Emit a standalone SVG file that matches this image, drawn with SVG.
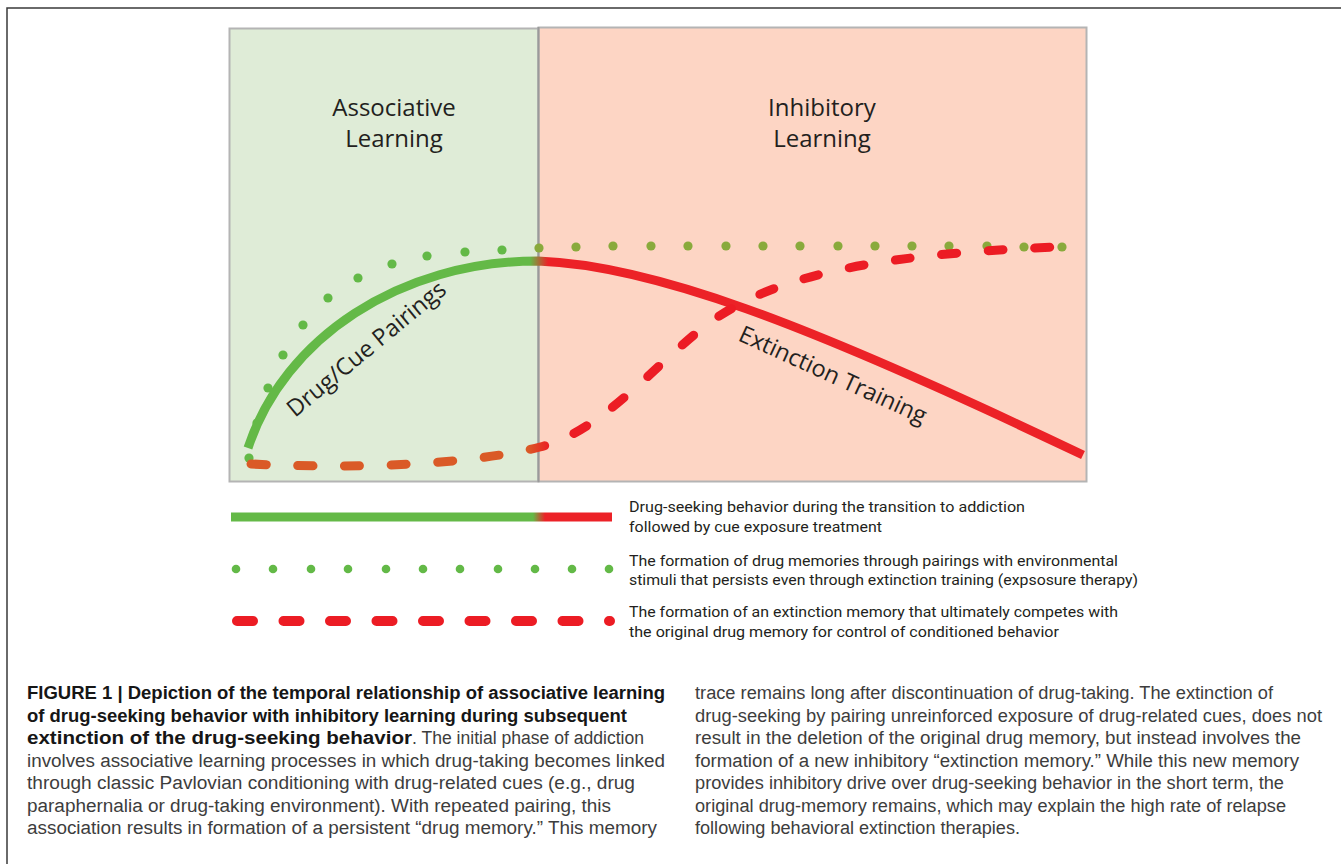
<svg xmlns="http://www.w3.org/2000/svg" width="1341" height="864" viewBox="0 0 1341 864">
<style>
.title{font-family:"Open Sans","Noto Sans",sans-serif;font-size:24px;fill:#231f20;text-anchor:middle}
.curvelbl{font-family:"Open Sans","Noto Sans",sans-serif;font-size:23.5px;fill:#231f20}
.leg{font-family:Roboto,"Liberation Sans",sans-serif;font-size:15px;fill:#231f20}
.cap{font-family:"Liberation Sans",Arial,sans-serif;font-size:18px;fill:#3d3d3d}
.capb{font-family:"Liberation Sans",Arial,sans-serif;font-size:18px;font-weight:bold;fill:#161616}
.dg{fill:#63b947}
.do{fill:#89aa3c}
</style>
<defs>
<linearGradient id="solidG" gradientUnits="userSpaceOnUse" x1="530" y1="0" x2="548" y2="0">
<stop offset="0" stop-color="#64b947"/><stop offset="1" stop-color="#ec2227"/>
</linearGradient>
<linearGradient id="dashG" gradientUnits="userSpaceOnUse" x1="528" y1="0" x2="550" y2="0">
<stop offset="0" stop-color="#da5a27"/><stop offset="1" stop-color="#ec1c24"/>
</linearGradient>
<linearGradient id="legG" gradientUnits="userSpaceOnUse" x1="533" y1="0" x2="545" y2="0">
<stop offset="0" stop-color="#64b947"/><stop offset="1" stop-color="#ec2227"/>
</linearGradient>
</defs>
<rect width="1341" height="864" fill="#ffffff"/>
<g id="frame" fill="none" stroke="#3a3a3a" stroke-width="1.5">
<path d="M7,864 V8 H1341"/>
</g>
<g id="panel-associative">
<rect x="229.5" y="28.5" width="309" height="453" fill="#dfecd7" stroke="#b4b4b4" stroke-width="2"/>
<text class="title" x="394" y="116">Associative</text>
<text class="title" x="394" y="147">Learning</text>
</g>
<g id="panel-inhibitory">
<rect x="538.5" y="27.5" width="548" height="454" fill="#fdd5c4" stroke="#b4b4b4" stroke-width="2"/>
<line x1="538.5" y1="27" x2="538.5" y2="482" stroke="#9a9a9a" stroke-width="2"/>
<text class="title" x="822" y="116">Inhibitory</text>
<text class="title" x="822" y="147">Learning</text>
</g>
<g id="connectors">
<g id="dotted-memory">
<circle class="dg" cx="249" cy="458" r="4.6"/>
<circle class="dg" cx="257" cy="423" r="4.6"/>
<circle class="dg" cx="268" cy="388" r="4.6"/>
<circle class="dg" cx="283" cy="355" r="4.6"/>
<circle class="dg" cx="303" cy="325" r="4.6"/>
<circle class="dg" cx="328" cy="298" r="4.6"/>
<circle class="dg" cx="358" cy="278" r="4.6"/>
<circle class="dg" cx="392" cy="264" r="4.6"/>
<circle class="dg" cx="427" cy="256" r="4.6"/>
<circle class="dg" cx="465" cy="252" r="4.6"/>
<circle class="dg" cx="502" cy="250" r="4.6"/>
<circle class="do" cx="539" cy="248" r="4.6"/>
<circle class="do" cx="576" cy="247" r="4.6"/>
<circle class="do" cx="613" cy="246" r="4.6"/>
<circle class="do" cx="651" cy="246" r="4.6"/>
<circle class="do" cx="688" cy="246" r="4.6"/>
<circle class="do" cx="726" cy="246" r="4.6"/>
<circle class="do" cx="763" cy="246" r="4.6"/>
<circle class="do" cx="800" cy="246" r="4.6"/>
<circle class="do" cx="838" cy="246" r="4.6"/>
<circle class="do" cx="875" cy="246" r="4.6"/>
<circle class="do" cx="912" cy="246" r="4.6"/>
<circle class="do" cx="949" cy="246" r="4.6"/>
<circle class="do" cx="987" cy="246" r="4.6"/>
<circle class="do" cx="1024" cy="247" r="4.6"/>
<circle class="do" cx="1062" cy="247" r="4.6"/>
</g>
<path id="solid-behavior" d="M248,448 C284,338 400,261 538,261 C650,265 800,320 1083,455" fill="none" stroke="url(#solidG)" stroke-width="9"/>
<path id="dashed-extinction" d="M251,464 C380,470 480,462 540,447 C600,432 650,370 700,330 C760,282 850,255 1058,247" fill="none" stroke="url(#dashG)" stroke-width="9" stroke-linecap="round" stroke-dasharray="15 31.7"/>
<text class="curvelbl" transform="translate(295,418) rotate(-39.5)">Drug/Cue Pairings</text>
<text class="curvelbl" transform="translate(737,340) rotate(24.5)">Extinction Training</text>
</g>
<g id="legend">
<line x1="231" y1="517" x2="612" y2="517" stroke="url(#legG)" stroke-width="9"/>
<g class="dg">
<circle cx="236" cy="569" r="4.3"/><circle cx="273" cy="569" r="4.3"/><circle cx="311" cy="569" r="4.3"/><circle cx="348" cy="569" r="4.3"/><circle cx="386" cy="569" r="4.3"/><circle cx="423" cy="569" r="4.3"/><circle cx="460" cy="569" r="4.3"/><circle cx="498" cy="569" r="4.3"/><circle cx="535" cy="569" r="4.3"/><circle cx="572" cy="569" r="4.3"/><circle cx="609" cy="569" r="4.3"/>
</g>
<path d="M237,621 H610" stroke="#ec1c24" stroke-width="10" stroke-linecap="round" stroke-dasharray="16 30.5" fill="none"/>
<text class="leg" x="629" y="512" textLength="396" lengthAdjust="spacingAndGlyphs">Drug-seeking behavior during the transition to addiction</text>
<text class="leg" x="629" y="532" textLength="253" lengthAdjust="spacingAndGlyphs">followed by cue exposure treatment</text>
<text class="leg" x="629" y="566" textLength="489" lengthAdjust="spacingAndGlyphs">The formation of drug memories through pairings with environmental</text>
<text class="leg" x="629" y="585" textLength="509" lengthAdjust="spacingAndGlyphs">stimuli that persists even through extinction training (expsosure therapy)</text>
<text class="leg" x="629" y="617" textLength="489" lengthAdjust="spacingAndGlyphs">The formation of an extinction memory that ultimately competes with</text>
<text class="leg" x="629" y="637" textLength="430" lengthAdjust="spacingAndGlyphs">the original drug memory for control of conditioned behavior</text>
</g>
<g id="caption">
<text class="capb" x="27" y="699" textLength="638" lengthAdjust="spacingAndGlyphs">FIGURE 1 | Depiction of the temporal relationship of associative learning</text>
<text class="capb" x="27" y="721.5" textLength="600" lengthAdjust="spacingAndGlyphs">of drug-seeking behavior with inhibitory learning during subsequent</text>
<text class="capb" x="27" y="744" textLength="385" lengthAdjust="spacingAndGlyphs">extinction of the drug-seeking behavior</text>
<text class="cap" x="412" y="744" textLength="232" lengthAdjust="spacingAndGlyphs">. The initial phase of addiction</text>
<text class="cap" x="27" y="766.5" textLength="638" lengthAdjust="spacingAndGlyphs">involves associative learning processes in which drug-taking becomes linked</text>
<text class="cap" x="27" y="789" textLength="608" lengthAdjust="spacingAndGlyphs">through classic Pavlovian conditioning with drug-related cues (e.g., drug</text>
<text class="cap" x="27" y="811.5" textLength="584" lengthAdjust="spacingAndGlyphs">paraphernalia or drug-taking environment). With repeated pairing, this</text>
<text class="cap" x="27" y="834" textLength="630" lengthAdjust="spacingAndGlyphs">association results in formation of a persistent “drug memory.” This memory</text>
<text class="cap" x="695" y="699" textLength="578" lengthAdjust="spacingAndGlyphs">trace remains long after discontinuation of drug-taking. The extinction of</text>
<text class="cap" x="695" y="721.5" textLength="627" lengthAdjust="spacingAndGlyphs">drug-seeking by pairing unreinforced exposure of drug-related cues, does not</text>
<text class="cap" x="695" y="744" textLength="606" lengthAdjust="spacingAndGlyphs">result in the deletion of the original drug memory, but instead involves the</text>
<text class="cap" x="695" y="766.5" textLength="604" lengthAdjust="spacingAndGlyphs">formation of a new inhibitory “extinction memory.” While this new memory</text>
<text class="cap" x="695" y="789" textLength="589" lengthAdjust="spacingAndGlyphs">provides inhibitory drive over drug-seeking behavior in the short term, the</text>
<text class="cap" x="695" y="811.5" textLength="591" lengthAdjust="spacingAndGlyphs">original drug-memory remains, which may explain the high rate of relapse</text>
<text class="cap" x="695" y="834" textLength="325" lengthAdjust="spacingAndGlyphs">following behavioral extinction therapies.</text>
</g>
</svg>
